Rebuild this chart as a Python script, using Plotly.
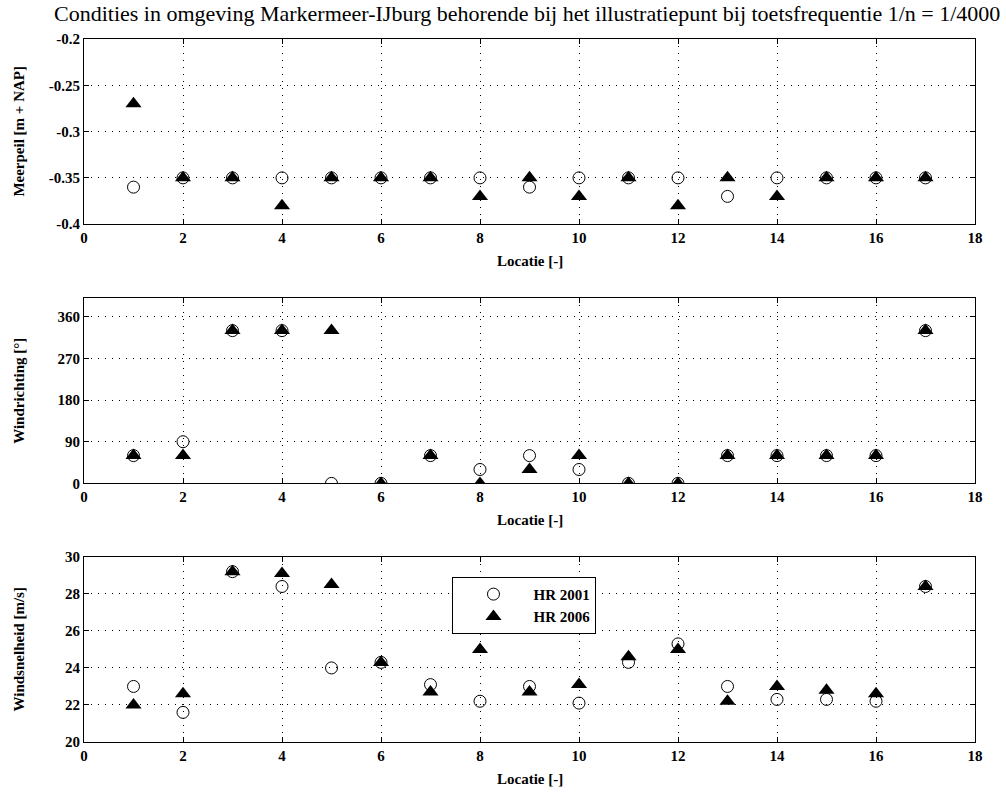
import plotly.graph_objects as go

locatie = list(range(1, 18))

meerpeil_2001 = [-0.36, -0.35, -0.35, -0.35, -0.35, -0.35, -0.35, -0.35, -0.36,
                 -0.35, -0.35, -0.35, -0.37, -0.35, -0.35, -0.35, -0.35]
meerpeil_2006 = [-0.27, -0.35, -0.35, -0.38, -0.35, -0.35, -0.35, -0.37, -0.35,
                 -0.37, -0.35, -0.38, -0.35, -0.37, -0.35, -0.35, -0.35]

windrichting_2001 = [60, 90, 330, 330, 0, 0, 60, 30, 60, 30, 0, 0, 60, 60, 60, 60, 330]
windrichting_2006 = [60, 60, 330, 330, 330, 0, 60, 0, 30, 60, 0, 0, 60, 60, 60, 60, 330]

windsnelheid_2001 = [23.0, 21.6, 29.2, 28.4, 24.0, 24.3, 23.1, 22.2, 23.0,
                     22.1, 24.3, 25.3, 23.0, 22.3, 22.3, 22.2, 28.4]
windsnelheid_2006 = [22.0, 22.6, 29.2, 29.1, 28.5, 24.3, 22.7, 25.0, 22.7,
                     23.1, 24.6, 25.0, 22.2, 23.0, 22.8, 22.6, 28.4]

x_ticks = list(range(0, 19, 2))
y1_ticks = [-0.4, -0.35, -0.3, -0.25, -0.2]
y1_labels = ["-0.4", "-0.35", "-0.3", "-0.25", "-0.2"]
y2_ticks = [0, 90, 180, 270, 360]
y3_ticks = [20, 22, 24, 26, 28, 30]

title = "Condities in omgeving Markermeer-IJburg behorende bij het illustratiepunt bij toetsfrequentie 1/n = 1/4000"
xlabel = "Locatie [-]"
ylabels = ["Meerpeil [m + NAP]", "Windrichting [°]", "Windsnelheid [m/s]"]
names = ["HR 2001", "HR 2006"]

FONT = "Liberation Serif, Times New Roman, serif"
W, H = 1006, 792

# plot-area box in pixels
L, R, T, B = 84.0, 975.5, 39.3, 741.7
PW, PH = R - L, B - T


def px(xs):
    return (xs - L) / PW


def py(ys):
    return (B - ys) / PH


fig = go.Figure()

circle = dict(symbol="circle-open", size=12, color="black", line=dict(width=1, color="black"))
tri = dict(symbol="triangle-up", size=14, color="black", line=dict(width=0))

series = [
    (meerpeil_2001, meerpeil_2006, "x", "y"),
    (windrichting_2001, windrichting_2006, "x2", "y2"),
    (windsnelheid_2001, windsnelheid_2006, "x3", "y3"),
]
for i, (a, b, xa, ya) in enumerate(series):
    fig.add_trace(go.Scatter(x=locatie, y=a, mode="markers", marker=circle, name=names[0],
                             xaxis=xa, yaxis=ya, showlegend=(i == 2)))
    fig.add_trace(go.Scatter(x=locatie, y=b, mode="markers", marker=tri, name=names[1],
                             xaxis=xa, yaxis=ya, showlegend=(i == 2)))

panels = [(39.3, 224.3), (298.3, 483.3), (556.7, 741.7)]

tickfont = dict(family=FONT, size=15, color="black", weight="bold")
common_x = dict(range=[0, 18], tickvals=x_ticks,
                ticks="inside", ticklen=5, tickcolor="black",
                showline=True, linecolor="black", linewidth=1, mirror="ticks",
                showgrid=True, gridcolor="black", griddash="1px,6px", gridwidth=1,
                zeroline=False, tickfont=tickfont, domain=[0, 1])
common_y = dict(ticks="inside", ticklen=5, tickcolor="black",
                showline=True, linecolor="black", linewidth=1, mirror="ticks",
                showgrid=True, gridcolor="black", griddash="1px,6px", gridwidth=1,
                zeroline=False, tickfont=tickfont)

ydefs = [
    dict(range=[-0.4, -0.2], tickvals=y1_ticks, ticktext=y1_labels),
    dict(range=[0, 400], tickvals=y2_ticks),
    dict(range=[20, 30], tickvals=y3_ticks),
]

labfont = dict(family=FONT, size=15, color="black", weight="bold")
layout = {}
annotations = []
for i, ((top, bot), yd) in enumerate(zip(panels, ydefs)):
    suffix = "" if i == 0 else str(i + 1)
    layout["xaxis" + suffix] = dict(common_x, anchor="y" + suffix)
    layout["yaxis" + suffix] = dict(common_y, domain=[py(bot), py(top)], anchor="x" + suffix, **yd)
    annotations.append(dict(text=xlabel, x=px((L + R) / 2), y=py(bot + 37),
                            xref="paper", yref="paper", showarrow=False,
                            xanchor="center", yanchor="middle", font=labfont))
    annotations.append(dict(text=ylabels[i], x=px(19), y=py((top + bot) / 2),
                            xref="paper", yref="paper", showarrow=False, textangle=-90,
                            xanchor="center", yanchor="middle", font=labfont))

annotations.append(dict(text=title, x=px(527.5), y=py(14), xref="paper", yref="paper",
                        showarrow=False, xanchor="center", yanchor="middle",
                        font=dict(family=FONT, size=22, color="black")))

fig.update_layout(
    **layout,
    annotations=annotations,
    width=W, height=H,
    margin=dict(l=L, r=W - R, t=T, b=H - B, autoexpand=False),
    paper_bgcolor="white", plot_bgcolor="white",
    showlegend=True,
    legend=dict(x=px(452.7), y=py(576.7), xanchor="left", yanchor="top",
                bgcolor="white", bordercolor="black", borderwidth=1,
                itemwidth=70, tracegroupgap=0, font=labfont),
)

fig.write_html("out.html", config={"displayModeBar": False},
               post_script="document.body.style.margin='0';document.body.style.overflow='hidden';")
